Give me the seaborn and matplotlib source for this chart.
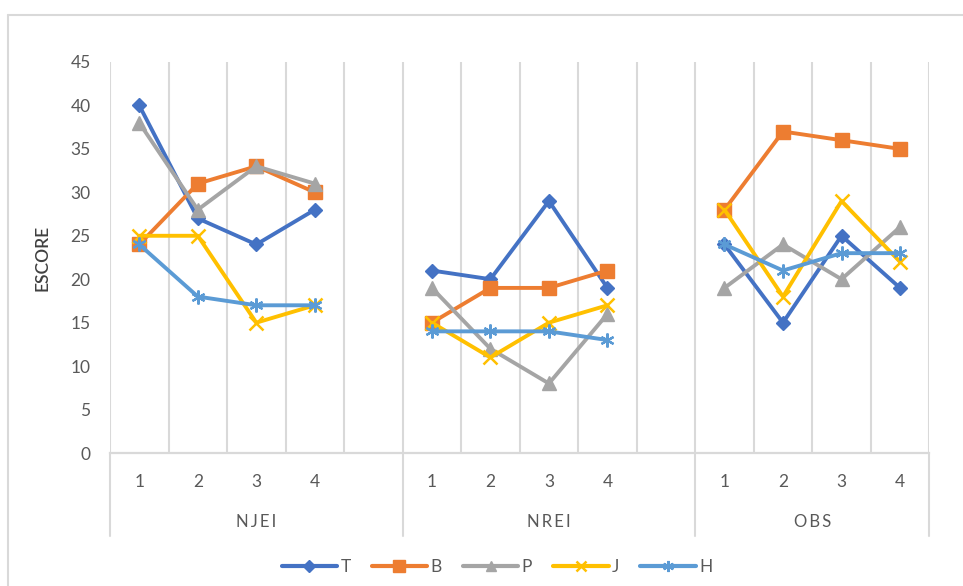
import numpy as np
import pandas as pd
import seaborn as sns
import matplotlib
matplotlib.use("Agg")
import matplotlib.pyplot as plt
from matplotlib.lines import Line2D
import matplotlib.transforms as mtransforms

# ---- data -------------------------------------------------------------
groups = ["NJEI", "NREI", "OBS"]
periods = ["1", "2", "3", "4"]
series = ["T", "B", "P", "J", "H"]

T_vals = [40, 27, 24, 28, 21, 20, 29, 19, 24, 15, 25, 19]
B_vals = [24, 31, 33, 30, 15, 19, 19, 21, 28, 37, 36, 35]
P_vals = [38, 28, 33, 31, 19, 12, 8, 16, 19, 24, 20, 26]
J_vals = [25, 25, 15, 17, 15, 11, 15, 17, 28, 18, 29, 22]
H_vals = [24, 18, 17, 17, 14, 14, 14, 13, 24, 21, 23, 23]

y_ticks = [0, 5, 10, 15, 20, 25, 30, 35, 40, 45]

# ---- styling ----------------------------------------------------------
colors = {"T": "#4472C4", "B": "#ED7D31", "P": "#A5A5A5", "J": "#FFC000", "H": "#5B9BD5"}
markers = {"T": "D", "B": "s", "P": "^", "J": "x", "H": (6, 2, 0)}
msizes = {"T": 7.5, "B": 10, "P": 9.5, "J": 9.5, "H": 10}
mews = {"T": 1, "B": 1, "P": 1, "J": 1.8, "H": 1.6}

sns.set_theme(style="white")
plt.rcParams["font.family"] = ["Lato", "DejaVu Sans"]
text_color = "#595959"
grid_color = "#D9D9D9"

# slots: 4 periods + 1 empty slot for the first two groups, 4 for the last
slot_width = 5
n_slots = 14
pos = []
grp_col = []
per_col = []
for gi, g in enumerate(groups):
    for pi, p in enumerate(periods):
        pos.append(gi * slot_width + pi + 0.5)
        grp_col.append(g)
        per_col.append(p)

values = {"T": T_vals, "B": B_vals, "P": P_vals, "J": J_vals, "H": H_vals}
df = pd.concat(
    [pd.DataFrame({"pos": pos, "grupo": grp_col, "periodo": per_col,
                   "serie": s, "escore": values[s]}) for s in series],
    ignore_index=True,
)

fig = plt.figure(figsize=(9.63, 5.86), dpi=100)
ax = fig.add_axes([110 / 963, 1 - 453 / 586, (929.3 - 110) / 963, (453 - 62) / 586])

for i, s in enumerate(series):
    sub = df[df["serie"] == s]
    sns.lineplot(
        data=sub, x="pos", y="escore", units="grupo", estimator=None,
        color=colors[s], linewidth=2.8, marker=markers[s], markersize=msizes[s],
        markeredgewidth=mews[s], markeredgecolor=colors[s], markerfacecolor=colors[s],
        ax=ax, legend=False, zorder=3 + i, clip_on=False,
    )

ax.set_xlim(0, n_slots)
ax.set_ylim(0, 45)
ax.set_yticks(y_ticks)
ax.set_yticklabels([str(v) for v in y_ticks], fontsize=12.5, color=text_color)
ax.tick_params(axis="y", length=0, pad=14)
ax.set_xticks([])
ax.set_xlabel("")
ax.set_ylabel("ESCORE", fontsize=12.5, color="#404040", fontweight="semibold", labelpad=14)

for sp in ["top", "right", "left"]:
    ax.spines[sp].set_visible(False)
ax.spines["bottom"].set_color(grid_color)
ax.spines["bottom"].set_linewidth(1.6)

# vertical gridlines at slot boundaries
for x in range(n_slots + 1):
    ax.axvline(x, color=grid_color, linewidth=1.5, zorder=1)

# multi-level category axis below the plot
trans = mtransforms.blended_transform_factory(ax.transData, ax.transAxes)
sep_bottom = -(536 - 453) / 391
for x in [0, 5, 10, 14]:
    ax.add_line(Line2D([x, x], [0, sep_bottom], transform=trans, color=grid_color,
                       linewidth=1.5, clip_on=False))
for p_x, p_lab in zip(pos, per_col):
    ax.text(p_x, -(482 - 453) / 391, p_lab, transform=trans, ha="center", va="center",
            fontsize=12.5, color=text_color)
for gi, g in enumerate(groups):
    start = gi * slot_width
    end = min(start + slot_width, n_slots)
    ax.text((start + end) / 2, -(522 - 453) / 391, "\u2009".join(g), transform=trans,
            ha="center", va="center", fontsize=12, color=text_color)

# legend
handles = [Line2D([], [], color=colors[s], linewidth=3, marker=markers[s],
                  markersize=msizes[s] * 0.8, markeredgewidth=mews[s],
                  markerfacecolor=colors[s], markeredgecolor=colors[s]) for s in series]
fig.legend(handles, series, loc="center", bbox_to_anchor=(497 / 963, 1 - 567 / 586),
           ncol=5, frameon=False, handlelength=3.2, handletextpad=0.2, columnspacing=1.2,
           prop={"size": 12.5}, labelcolor=text_color)

# chart area border
fig.add_artist(Line2D([8 / 963, 1], [1 - 15 / 586, 1 - 15 / 586], transform=fig.transFigure,
                      color=grid_color, linewidth=1.5))
fig.add_artist(Line2D([8 / 963, 8 / 963], [0, 1 - 15 / 586], transform=fig.transFigure,
                      color=grid_color, linewidth=1.5))

fig.savefig("out.png", dpi=100, facecolor="white")
